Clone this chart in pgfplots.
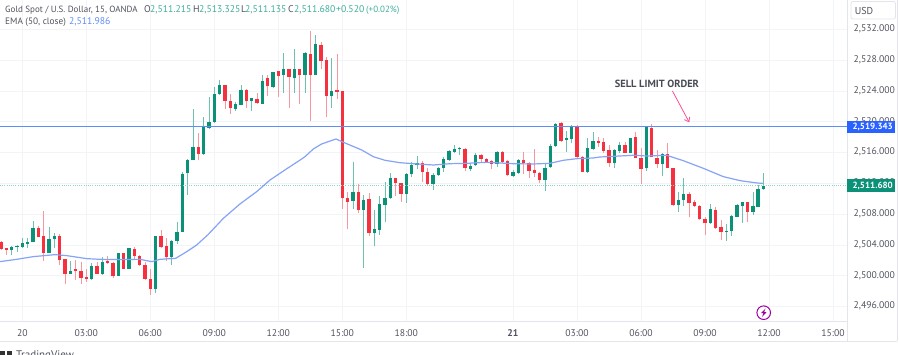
\documentclass[border=0pt]{standalone}
\usepackage{pgfplots}
\pgfplotsset{compat=1.18}
\usepackage{pgfplotstable}
\usepackage{fontspec}
\setmainfont{PT Sans}
\usetikzlibrary{arrows.meta}
\definecolor{cgreen}{HTML}{0A9178}
\definecolor{cred}{HTML}{F5303F}
\definecolor{wgreen}{HTML}{6CC2AF}
\definecolor{wred}{HTML}{F7979E}
\definecolor{cgrid}{HTML}{F2F4F8}
\definecolor{cframe}{HTML}{E3E5EC}
\definecolor{ctext}{HTML}{50535E}
\definecolor{cblue}{HTML}{5F8DF7}
\definecolor{cema}{HTML}{86A3F5}
\definecolor{ctag}{HTML}{2962FF}
\definecolor{cteal}{HTML}{3FAE9B}
\definecolor{cdot}{HTML}{8FD3C4}
\pgfplotstableread{
i o h l c
-2 2503.38 2503.90 2502.69 2503.73
-1 2503.73 2503.99 2503.04 2503.86
0 2503.73 2504.94 2503.56 2504.25
1 2504.17 2504.86 2503.56 2504.34
2 2504.34 2507.11 2504.34 2506.20
5 2502.99 2506.28 2502.91 2504.73
6 2504.73 2505.59 2503.56 2505.12
9 2500.27 2501.96 2500.22 2500.66
13 2499.53 2501.61 2499.45 2501.31
15 2500.22 2502.48 2500.14 2501.83
18 2499.97 2502.91 2499.97 2502.91
20 2500.92 2503.64 2500.83 2503.64
25 2498.32 2505.20 2497.71 2505.20
28 2502.43 2504.64 2501.35 2504.55
29 2504.51 2507.02 2504.08 2505.72
30 2505.72 2513.43 2505.64 2513.21
31 2513.30 2515.12 2510.48 2515.03
32 2515.03 2521.65 2514.99 2516.72
34 2515.85 2520.62 2515.68 2519.32
35 2519.14 2523.26 2519.01 2519.97
36 2519.97 2524.55 2519.88 2523.56
37 2523.56 2525.42 2523.47 2524.77
40 2521.70 2522.61 2521.39 2522.35
41 2522.22 2524.77 2522.13 2524.12
43 2522.65 2523.04 2521.39 2523.04
45 2522.30 2526.07 2522.30 2525.33
47 2524.55 2526.50 2524.42 2526.42
49 2526.07 2528.88 2523.69 2526.80
51 2525.64 2529.40 2523.78 2526.85
53 2526.07 2529.10 2523.78 2528.97
55 2526.07 2531.26 2526.07 2530.09
58 2523.30 2528.23 2521.74 2524.03
62 2509.66 2514.73 2508.71 2510.92
64 2508.54 2510.48 2500.96 2509.83
66 2505.59 2508.54 2503.86 2506.11
67 2505.94 2510.40 2505.29 2509.27
68 2509.19 2512.22 2507.02 2510.05
69 2510.05 2513.38 2509.96 2512.65
72 2510.66 2513.38 2509.49 2513.21
73 2513.21 2514.81 2512.87 2514.42
74 2514.38 2515.55 2513.82 2514.60
77 2511.87 2513.38 2511.13 2513.12
78 2513.08 2514.16 2513.00 2513.95
79 2513.95 2515.46 2513.51 2515.16
80 2515.07 2516.33 2514.94 2516.16
81 2516.07 2516.98 2515.90 2516.50
82 2516.46 2516.76 2515.68 2516.55
84 2513.90 2514.60 2513.56 2514.29
85 2514.38 2515.90 2514.29 2515.72
89 2514.55 2516.24 2514.16 2516.07
92 2513.00 2513.73 2512.87 2513.43
93 2513.34 2515.12 2513.21 2514.99
98 2512.43 2514.68 2511.05 2513.95
99 2514.08 2517.11 2513.95 2516.89
100 2516.85 2519.79 2516.72 2519.75
102 2517.63 2518.84 2516.11 2517.84
103 2517.76 2519.58 2517.19 2519.49
106 2513.51 2517.84 2513.30 2516.55
107 2516.46 2518.67 2516.33 2517.54
111 2514.60 2516.42 2514.03 2516.29
112 2516.20 2517.41 2515.90 2517.02
114 2515.98 2517.93 2515.90 2517.93
117 2513.95 2519.32 2513.64 2519.32
120 2514.55 2515.90 2513.00 2515.85
123 2509.19 2510.92 2508.32 2509.83
124 2509.83 2512.65 2509.10 2510.61
129 2506.80 2509.27 2506.72 2508.62
132 2505.64 2506.72 2504.55 2505.85
133 2505.81 2507.89 2505.16 2507.76
134 2507.67 2509.32 2507.67 2509.23
135 2509.01 2509.62 2506.89 2509.53
137 2508.28 2510.92 2507.89 2509.06
138 2508.97 2511.78 2508.88 2511.22
139 2511.215 2513.325 2511.135 2511.68
}\greencandles
\pgfplotstableread{
i o h l c
-4 2504.42 2504.55 2503.34 2503.43
-3 2503.56 2503.56 2502.69 2503.38
3 2506.24 2506.46 2505.03 2505.03
4 2505.12 2508.36 2501.92 2502.99
7 2505.16 2505.38 2501.40 2502.04
8 2502.17 2502.17 2498.88 2500.22
10 2500.83 2502.04 2499.45 2500.61
11 2500.66 2501.83 2498.88 2499.71
12 2499.79 2500.83 2499.23 2499.53
14 2501.31 2501.83 2500.22 2500.22
16 2501.92 2502.56 2501.57 2501.66
17 2501.66 2501.83 2499.66 2499.92
19 2502.91 2502.99 2500.83 2500.92
21 2503.51 2503.77 2502.04 2502.56
22 2502.56 2502.69 2501.31 2501.40
23 2501.40 2501.83 2499.45 2499.62
24 2499.53 2500.83 2497.50 2498.23
26 2505.20 2505.94 2503.56 2503.73
27 2503.82 2504.86 2501.96 2502.39
33 2516.72 2518.58 2514.99 2515.85
38 2524.77 2524.77 2521.65 2522.65
39 2522.65 2523.65 2521.00 2521.74
42 2524.12 2524.21 2521.83 2522.65
44 2522.95 2523.78 2522.35 2522.39
46 2525.68 2526.11 2523.34 2524.60
48 2526.55 2526.63 2523.26 2525.98
50 2526.85 2526.85 2521.83 2525.85
52 2526.80 2526.80 2522.30 2526.07
54 2528.80 2531.78 2520.10 2526.07
56 2530.01 2530.40 2526.85 2527.93
57 2528.02 2528.45 2520.57 2523.30
59 2524.08 2528.75 2522.91 2523.90
60 2523.99 2523.99 2508.71 2510.09
61 2510.09 2510.92 2506.03 2509.57
63 2510.92 2511.87 2508.10 2508.54
65 2509.92 2510.79 2505.16 2505.59
70 2512.65 2512.74 2510.40 2512.04
71 2512.04 2512.04 2509.62 2510.66
75 2514.60 2514.94 2512.22 2513.47
76 2513.47 2513.95 2511.78 2511.91
83 2516.50 2516.55 2513.64 2514.03
86 2515.72 2515.81 2514.73 2515.20
87 2515.20 2515.25 2514.60 2514.81
88 2514.85 2515.03 2513.82 2514.55
90 2516.07 2516.20 2514.60 2514.77
91 2514.85 2515.03 2512.91 2513.04
94 2514.99 2516.11 2513.21 2514.60
95 2514.68 2514.73 2512.65 2513.64
96 2513.73 2516.50 2512.87 2513.38
97 2513.38 2513.51 2512.04 2512.48
101 2519.88 2520.01 2517.41 2517.50
104 2519.49 2519.58 2515.20 2515.46
105 2515.42 2515.55 2513.43 2513.51
108 2517.54 2517.97 2516.76 2517.28
109 2517.41 2517.84 2515.98 2516.24
110 2516.33 2516.98 2514.08 2514.68
113 2517.02 2517.41 2515.90 2515.98
115 2517.97 2518.62 2515.25 2515.25
116 2515.33 2516.63 2511.91 2513.86
118 2519.23 2519.70 2515.38 2515.38
119 2515.33 2516.33 2513.95 2514.51
121 2515.85 2517.19 2513.95 2513.99
122 2513.99 2513.99 2509.10 2509.19
125 2510.61 2510.92 2507.58 2509.49
126 2509.53 2509.83 2508.88 2509.10
127 2509.10 2509.19 2507.24 2507.32
128 2507.32 2507.67 2505.29 2506.80
130 2508.54 2508.97 2506.03 2506.16
131 2506.37 2507.24 2504.64 2505.72
136 2509.53 2509.62 2507.02 2508.32
}\redcandles
\pgfplotstableread{
i v
-4.19 2501.83
-1.06 2502.13
2.06 2502.48
6.13 2502.74
8.31 2502.61
12.06 2502.22
14.56 2502.13
18.31 2502.09
22.06 2502.13
24.25 2501.83
25.81 2502.13
28.75 2502.26
30.81 2503.12
32.69 2503.99
34.88 2505.38
37.69 2507.45
40.81 2509.32
43.94 2510.92
46.44 2512.43
48.94 2513.60
52 2514.99
53 2515.46
54.56 2516.46
56.13 2517.11
58.81 2517.76
60.5 2517.24
63.63 2516.33
65.81 2515.46
68 2514.99
70.81 2514.68
73.31 2514.55
77.06 2514.38
80.19 2514.55
83.31 2514.60
87.06 2514.73
92.06 2514.55
95.81 2514.51
98.94 2514.60
101.44 2514.99
103.94 2515.20
107.06 2515.29
108.31 2515.42
112.06 2515.55
114.56 2515.64
117.06 2515.55
120.81 2515.64
123.94 2514.94
127.69 2513.95
131.44 2512.87
134.56 2512.35
137.69 2512.05
138.94 2511.986
}\ematable
\pgfplotstableread{
i v
-4.19 2519.343
154.69 2519.343
}\limitline
\pgfplotstableread{
i v
-4.19 2511.68
154.69 2511.68
}\lastline
\begin{document}
\begin{tikzpicture}[x=1pt,y=1pt]
\path[use as bounding box] (0,0) rectangle (900,355);
\begin{axis}[
  at={(0pt,33.3pt)}, anchor=south west,
  scale only axis, width=847.3pt, height=321.7pt,
  xmin=-4.19, xmax=154.69, ymin=2494.03, ymax=2535.81,
  axis x line*=bottom, axis y line*=right,
  axis line style={draw=cframe,line width=1pt,-},
  major tick length=0pt,
  grid=major, grid style={draw=cgrid,line width=0.8pt},
  xtick={0,12,24,36,48,60,72,92,104,116,128,140,152},
  xticklabels={20,03:00,06:00,09:00,12:00,15:00,18:00,\textbf{21},03:00,06:00,09:00,12:00,15:00},
  ytick={2496,2500,2504,2508,2512,2516,2520,2524,2528,2532},
  scaled y ticks=false,
  yticklabel pos=right,
  y tick label style={/pgf/number format/fixed,/pgf/number format/fixed zerofill,/pgf/number format/precision=3,/pgf/number format/1000 sep={,},/pgf/number format/assume math mode=true,anchor=west,xshift=2.8pt,yshift=0.4pt},
  tick label style={font=\fontsize{9.7}{12}\selectfont,text=ctext},
  x tick label style={yshift=-4.2pt},
]
% wicks
\addplot[draw=none,mark=none,forget plot,error bars/.cd,y dir=plus,y explicit,error mark=none,
  error bar style={draw=wgreen,solid,line width=0.9pt}]
  table[x=i,y=l,y error plus expr=\thisrow{h}-\thisrow{l},y error minus expr=0] {\greencandles};
\addplot[draw=none,mark=none,forget plot,error bars/.cd,y dir=plus,y explicit,error mark=none,
  error bar style={draw=wred,solid,line width=0.9pt}]
  table[x=i,y=l,y error plus expr=\thisrow{h}-\thisrow{l},y error minus expr=0] {\redcandles};
% bodies
\addplot[draw=none,mark=none,forget plot,error bars/.cd,y dir=plus,y explicit,error mark=none,
  error bar style={draw=cgreen,solid,line width=3.6pt}]
  table[x=i,y=o,y error plus expr=\thisrow{c}-\thisrow{o},y error minus expr=0] {\greencandles};
\addplot[draw=none,mark=none,forget plot,error bars/.cd,y dir=plus,y explicit,error mark=none,
  error bar style={draw=cred,solid,line width=3.6pt}]
  table[x=i,y=c,y error plus expr=\thisrow{o}-\thisrow{c},y error minus expr=0] {\redcandles};
% lines
\addplot[cdot,line width=0.6pt,dash pattern=on 1pt off 1.2pt,mark=none,forget plot] table[x=i,y=v] {\lastline};
\addplot[cema,line width=1.2pt,mark=none,forget plot,line join=round] table[x=i,y=v] {\ematable};
\addplot[cblue,line width=1.1pt,mark=none,forget plot] table[x=i,y=v] {\limitline};
% annotation
\node[font=\fontsize{10.4}{11}\selectfont\bfseries,text=ctext!90!black] at (axis cs:119,2524.9) {SELL LIMIT ORDER};
\draw[-{Straight Barb[length=4pt,width=6pt]},draw=red!60!magenta!70!white,line width=0.8pt] (axis cs:121.9,2524) -- (axis cs:125.05,2519.92);
\end{axis}
% frame pieces
\draw[cframe,line width=1.6pt] (0,33.3) -- (847.3,33.3);
\draw[cframe,line width=0.9pt] (0,14) -- (897,14);
\draw[cframe,line width=0.9pt] (847.3,355) -- (847.3,14);
\draw[cframe,line width=0.9pt] (897,355) -- (897,14);
% USD box
\draw[cframe,line width=0.8pt,fill=white,rounded corners=2pt] (851,353.5) rectangle (895.5,336);
\node[font=\fontsize{10}{12}\selectfont,text=ctext,inner sep=0pt] at (864,344) {USD};
% price tags
\fill[ctag] (847.3,234.3) rectangle (895.3,222.3);
\node[font=\fontsize{9}{12}\selectfont\bfseries,text=white,inner sep=0pt] at (872.7,228.3) {2,519.343};
\fill[cgreen] (847.3,175.7) rectangle (895.3,163.3);
\node[font=\fontsize{9}{12}\selectfont\bfseries,text=white,inner sep=0pt] at (872.7,169.5) {2,511.680};
% lightning badge
\draw[violet!75!magenta,line width=1pt] (763.7,42.3) circle (6.8);
\fill[violet!75!magenta] (765.5,46.5) -- (761,41.8) -- (763.4,41.8) -- (762,38) -- (766.5,42.8) -- (764.1,42.8) -- cycle;
% legend
\begin{scope}[every node/.style={anchor=base west,inner sep=0pt,font=\fontsize{9.7}{12}\selectfont}]
\node[text=ctext,font=\fontsize{9}{12}\selectfont] at (5,342.5) {Gold Spot / U.S. Dollar, 15, OANDA};
\node[text=ctext] at (144,342.5) {O};
\node[text=cteal] at (150,342.5) {2,511.215};
\node[text=ctext] at (193,342.5) {H};
\node[text=cteal] at (199,342.5) {2,513.325};
\node[text=ctext] at (241,342.5) {L};
\node[text=cteal] at (245,342.5) {2,511.135};
\node[text=ctext] at (288,342.5) {C};
\node[text=cteal] at (294,342.5) {2,511.680};
\node[text=cteal] at (336,342.5) {+0.520};
\node[text=cteal,font=\fontsize{9}{12}\selectfont] at (366,342.5) {(+0.02\%)};
\node[text=ctext,font=\fontsize{9.3}{12}\selectfont] at (5,330) {EMA (50, close)};
\node[text=cblue] at (69,330) {2,511.986};
\end{scope}
% logo, cut by the lower edge as in the source
\begin{scope}
\clip (0,0) rectangle (900,355);
\fill[black!80] (0,0) rectangle (5,4);
\fill[black!80] (6.5,0) rectangle (12,4);
\node[anchor=base west,inner sep=0pt,font=\fontsize{11}{12}\selectfont,text=ctext] at (16,-3.5) {TradingView};
\end{scope}
\end{tikzpicture}
\end{document}
